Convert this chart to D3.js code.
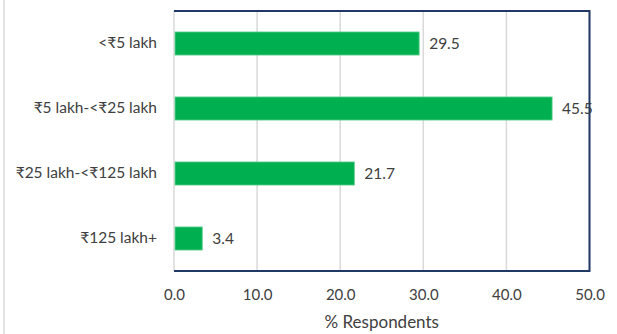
<!DOCTYPE html>
<html><head><meta charset="utf-8">
<script src="https://cdn.jsdelivr.net/npm/d3@7"></script>
<style>body{margin:0;background:#fff;} text{font-family:Lato,'Noto Sans',sans-serif;fill:#404040;}</style>
</head><body>
<svg id="c" width="617" height="334"></svg>
<script>
const categories = ["<₹5 lakh","₹5 lakh-<₹25 lakh","₹25 lakh-<₹125 lakh","₹125 lakh+"];
const values = [29.5,45.5,21.7,3.4];
const tickValues = [0,10,20,30,40,50];
const axisTitle = "% Respondents";

const svg = d3.select("#c");
const L=174, R=589.5, T=11, B=271;
const x = d3.scaleLinear().domain([0,50]).range([L,R]);
const y = d3.scaleBand().domain(categories).range([T,B]).paddingInner(0.645).paddingOuter(0.3225);

svg.append("line").attr("x1",4).attr("x2",4).attr("y1",0).attr("y2",334).attr("stroke","#e3e3e3").attr("stroke-width",2);

svg.append("g").selectAll("line").data(tickValues).join("line")
  .attr("x1",d=>x(d)).attr("x2",d=>x(d)).attr("y1",T).attr("y2",B)
  .attr("stroke","#d9d9d9").attr("stroke-width",1.5);

svg.append("g").selectAll("rect").data(values).join("rect")
  .attr("x",x(0)+1).attr("y",(d,i)=>y(categories[i]))
  .attr("width",d=>x(d)-x(0)-1).attr("height",y.bandwidth())
  .attr("fill","#00b050").attr("stroke","#5fd08f").attr("stroke-width",0.8);

svg.append("path").attr("d",`M${L},${T}H${R}V${B}H${L}`).attr("fill","none")
  .attr("stroke","#1f3864").attr("stroke-width",2);

svg.append("g").selectAll("text").data(values).join("text")
  .attr("x",d=>x(d)+10).attr("y",(d,i)=>y(categories[i])+y.bandwidth()/2)
  .attr("dy","0.35em").attr("font-size",15.5).text(d=>d.toFixed(1));

const yAxis = d3.axisLeft(y).tickSize(0).tickPadding(17);
const ya = svg.append("g").attr("transform",`translate(${L},0)`).call(yAxis);
ya.select(".domain").remove();
ya.selectAll("text").attr("font-size",15.5).attr("font-family",null).attr("fill","#404040");

const xAxis = d3.axisBottom(x).tickValues(tickValues).tickSize(0).tickPadding(18).tickFormat(d3.format(".1f"));
const xa = svg.append("g").attr("transform",`translate(0,${B})`).call(xAxis);
xa.select(".domain").remove();
xa.selectAll("text").attr("font-size",15).attr("font-family",null).attr("fill","#404040");

svg.append("text").attr("x",(L+R)/2).attr("y",328).attr("text-anchor","middle").attr("font-size",17).text(axisTitle);
</script>
</body></html>
